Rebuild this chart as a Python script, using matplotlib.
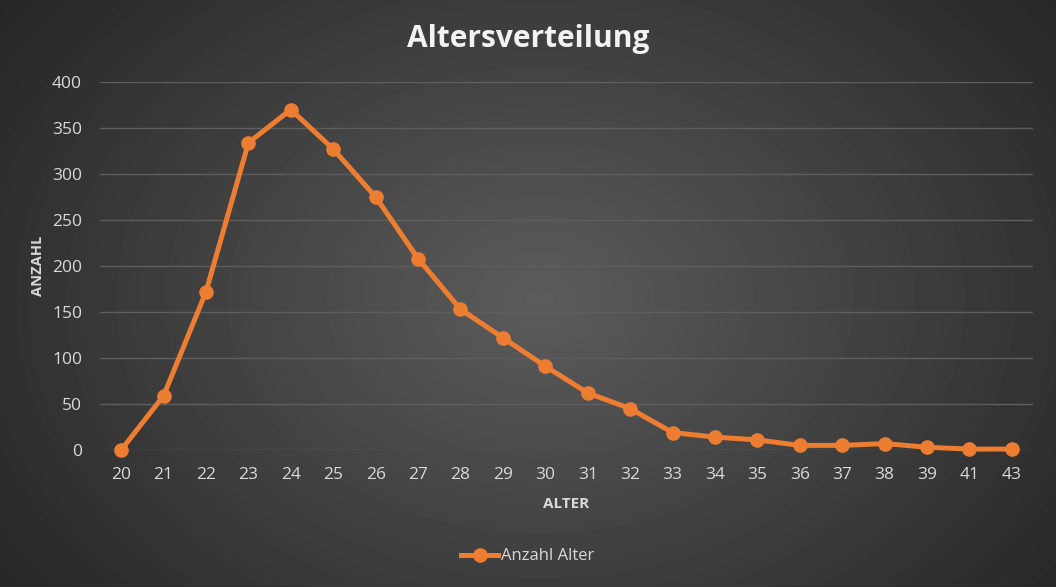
import numpy as np
import matplotlib
matplotlib.use('Agg')
import matplotlib.pyplot as plt

plt.rcParams['font.family'] = ['Open Sans', 'DejaVu Sans']

alter = ['20', '21', '22', '23', '24', '25', '26', '27', '28', '29', '30',
         '31', '32', '33', '34', '35', '36', '37', '38', '39', '41', '43']
anzahl = [0, 59, 172, 334, 370, 327, 275, 208, 153, 122, 91,
          62, 45, 19, 14, 11, 5, 5, 7, 3, 1, 1]

text_color = '#d9d9d9'
line_color = '#ed7d31'

fig = plt.figure(figsize=(10.56, 5.87), dpi=100)

# radial gradient background
bg = fig.add_axes([0, 0, 1, 1], zorder=-10)
yy, xx = np.mgrid[0:587, 0:1056]
r = np.sqrt(((xx - 540) / 700.0) ** 2 + ((yy - 300) / 520.0) ** 2)
shade = np.clip(0.36 - 0.22 * r, 0.13, 0.36)
bg.imshow(shade, cmap='gray', vmin=0, vmax=1, aspect='auto', interpolation='bilinear')
bg.axis('off')

ax = fig.add_axes([100 / 1056, 137 / 587, 933 / 1056, 368 / 587])
ax.patch.set_alpha(0)

x = np.arange(len(alter))
ax.plot(x, anzahl, color=line_color, lw=3.6, marker='o', ms=9.5,
        label='Anzahl Alter', zorder=3, clip_on=False)

ax.set_xlim(-0.5, len(alter) - 0.5)
ax.set_ylim(0, 400)
ax.set_yticks(range(0, 401, 50))
ax.set_xticks(x)
ax.set_xticklabels(alter)
ax.grid(axis='y', color='#5e5e5e', lw=1)
ax.set_axisbelow(True)
for s in ax.spines.values():
    s.set_visible(False)
ax.tick_params(length=0, colors=text_color, labelsize=12.5)
ax.tick_params(axis='x', pad=12)
ax.tick_params(axis='y', pad=13)

ax.set_xlabel('ALTER', color=text_color, fontsize=11, fontweight='bold', labelpad=10)
ax.set_ylabel('ANZAHL', color=text_color, fontsize=10.5, fontweight='bold', labelpad=5)

fig.text(0.5, 0.933, 'Altersverteilung', ha='center', va='center',
         color='#f2f2f2', fontsize=21.5, fontweight='bold')

fig.legend(loc='center', bbox_to_anchor=(0.5, 0.052), frameon=False,
           labelcolor=text_color, fontsize=12, handlelength=2.2, handletextpad=0.2)

fig.savefig('out.png', dpi=100)
